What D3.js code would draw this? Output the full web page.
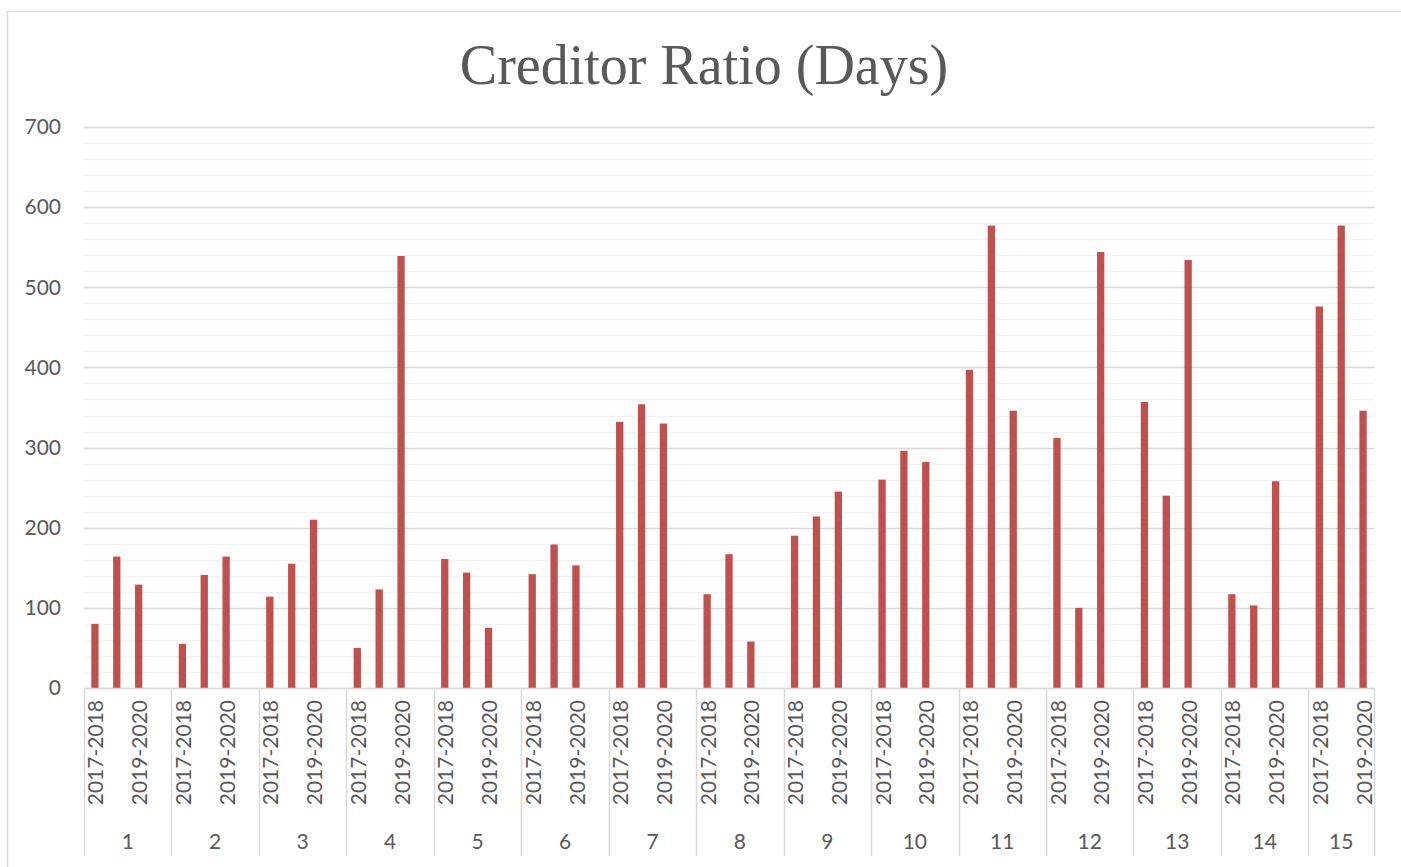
<!DOCTYPE html>
<html>
  <head>
    <title>Creditor Ratio (Days)</title>
    <script src="https://d3js.org/d3.v7.min.js"></script>
    <style>
        body { margin: 0; background: #fff; }
        .title {
        font-family: "Liberation Serif", serif;
        font-size: 56px;
        fill: #595959;
        text-anchor: middle;
        }
        .tick-label {
        font-family: Lato, "Liberation Sans", sans-serif;
        font-size: 21px;
        fill: #595959;
        }
        .bar { fill: #C0504D; }
    </style>
  </head>
  <body>
    <svg width="1401" height="867"></svg>
    <script>
        // values, one array per period, index = company 1..15
        const groups = ["1", "2", "3", "4", "5", "6", "7", "8", "9", "10", "11", "12", "13", "14", "15"];
        const periods = ["2017-2018", "2018-2019", "2019-2020"];
        const ratio2017 = [80, 55, 114, 50, 161, 142, 332, 117, 190, 260, 397, 312, 357, 117, 476];
        const ratio2018 = [164, 141, 155, 123, 144, 179, 354, 167, 214, 296, 577, 100, 240, 103, 577];
        const ratio2019 = [129, 164, 210, 539, 75, 153, 330, 58, 245, 282, 346, 544, 534, 258, 346];
        const yTicks = [0, 100, 200, 300, 400, 500, 600, 700];
        const minorTicks = d3.range(0, 701, 20);

        const series = [ratio2017, ratio2018, ratio2019];

        // build the category slots: 3 periods per group, and a blank slot between groups
        const slots = [];
        groups.forEach((g, gi) => {
            periods.forEach((p, pi) => {
                slots.push({key: g + "|" + p, group: g, period: p, value: series[pi][gi]});
            });
            if (gi < groups.length - 1) {
                slots.push({key: g + "|blank", group: g, period: "", value: null});
            }
        });

        const plot = {left: 84, right: 1374, top: 127, bottom: 688};

        const svg = d3.select("svg");

        // chart border
        svg.append("rect")
            .attr("x", 7.5)
            .attr("y", 11.5)
            .attr("width", 1400)
            .attr("height", 870)
            .attr("fill", "#fff")
            .attr("stroke", "#D9D9D9")
            .attr("stroke-width", 1.3);

        const x = d3.scaleBand()
            .domain(slots.map(d => d.key))
            .range([plot.left, plot.right]);

        const y = d3.scaleLinear()
            .domain([0, 700])
            .range([plot.bottom, plot.top]);

        // minor gridlines
        svg.append("g")
            .selectAll("line")
            .data(minorTicks.filter(t => t % 100 !== 0))
            .enter().append("line")
            .attr("x1", plot.left)
            .attr("x2", plot.right)
            .attr("y1", d => Math.round(y(d)) + 0.5)
            .attr("y2", d => Math.round(y(d)) + 0.5)
            .attr("stroke", "#F2F2F2")
            .attr("stroke-width", 1.3);

        // major gridlines
        svg.append("g")
            .selectAll("line")
            .data(yTicks)
            .enter().append("line")
            .attr("x1", plot.left)
            .attr("x2", plot.right)
            .attr("y1", d => Math.round(y(d)) + 0.5)
            .attr("y2", d => Math.round(y(d)) + 0.5)
            .attr("stroke", "#D9D9D9")
            .attr("stroke-width", 1.5);

        // y axis labels
        const yAxis = d3.axisLeft(y)
            .tickValues(yTicks)
            .tickSize(0)
            .tickPadding(23);

        const yG = svg.append("g")
            .attr("transform", `translate(${plot.left},0)`)
            .call(yAxis);
        yG.select(".domain").remove();
        yG.selectAll("text")
            .attr("class", "tick-label")
            .attr("font-family", null)
            .attr("font-size", null);

        // bars
        const barW = x.bandwidth() / 3;
        svg.append("g")
            .selectAll("rect")
            .data(slots.filter(d => d.value !== null))
            .enter().append("rect")
            .attr("class", "bar")
            .attr("x", d => x(d.key) + (x.bandwidth() - barW) / 2)
            .attr("width", barW)
            .attr("y", d => y(d.value))
            .attr("height", d => y(0) - y(d.value));

        // x axis line
        svg.append("line")
            .attr("x1", plot.left)
            .attr("x2", plot.right)
            .attr("y1", plot.bottom + 0.5)
            .attr("y2", plot.bottom + 0.5)
            .attr("stroke", "#D9D9D9")
            .attr("stroke-width", 1.5);

        // period labels, every other slot like Excel does when crowded
        svg.append("g")
            .selectAll("text")
            .data(slots.filter((d, i) => i % 2 === 0 && d.period !== ""))
            .enter().append("text")
            .attr("class", "tick-label")
            .attr("transform", d => `translate(${x(d.key) + x.bandwidth() / 2 + 1},${plot.bottom + 12}) rotate(-90)`)
            .attr("text-anchor", "end")
            .attr("dy", "0.36em")
            .text(d => d.period);

        // group extents
        const groupSpans = groups.map(g => {
            const keys = slots.filter(s => s.group === g).map(s => s.key);
            const x0 = x(keys[0]);
            const x1 = x(keys[keys.length - 1]) + x.bandwidth();
            return {group: g, x0: x0, x1: x1};
        });

        // group separators
        const bounds = [plot.left].concat(groupSpans.map(d => d.x1));
        svg.append("g")
            .selectAll("line")
            .data(bounds)
            .enter().append("line")
            .attr("x1", d => Math.round(d) + 0.5)
            .attr("x2", d => Math.round(d) + 0.5)
            .attr("y1", plot.bottom)
            .attr("y2", 856)
            .attr("stroke", "#D9D9D9")
            .attr("stroke-width", 1.5);

        // group labels
        svg.append("g")
            .selectAll("text")
            .data(groupSpans)
            .enter().append("text")
            .attr("class", "tick-label")
            .attr("x", d => (d.x0 + d.x1) / 2)
            .attr("y", 849)
            .attr("text-anchor", "middle")
            .text(d => d.group);

        // title
        svg.append("text")
            .attr("class", "title")
            .attr("x", 704)
            .attr("y", 84)
            .text("Creditor Ratio (Days)");
    </script>
  </body>
</html>
